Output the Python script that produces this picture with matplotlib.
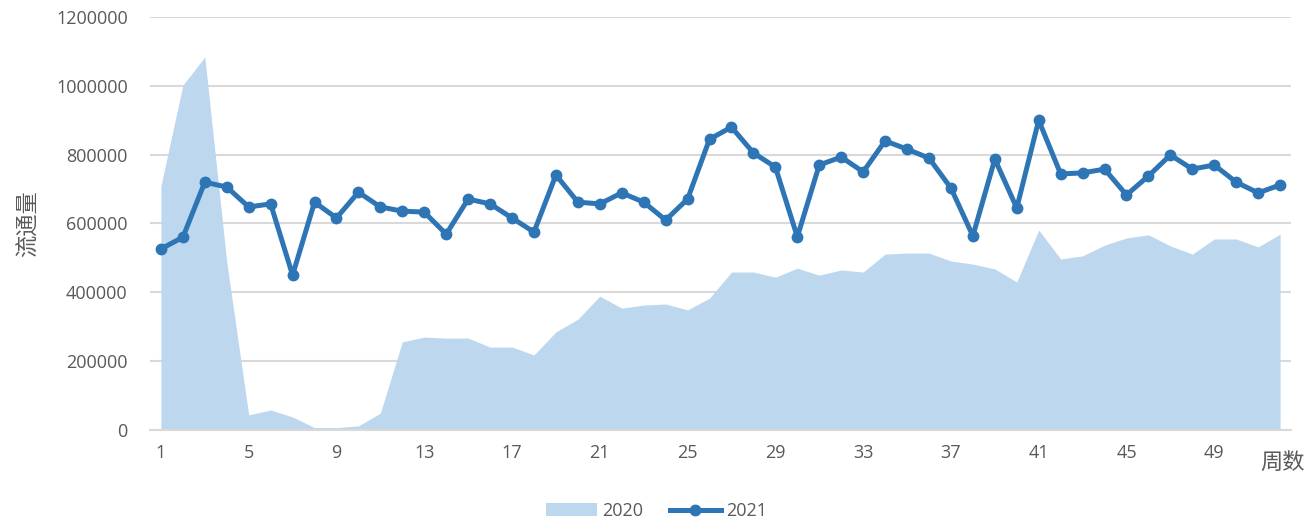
import numpy as np
import matplotlib.pyplot as plt
from matplotlib.ticker import FuncFormatter

plt.rcParams['font.family'] = ['Open Sans', 'Noto Sans CJK SC', 'DejaVu Sans']

weeks = list(range(1, 53))

vol_2020 = [709000, 1002000, 1084000, 488000, 44000, 58000, 38000, 7000, 7000, 12000,
            49000, 256000, 270000, 267000, 267000, 241000, 241000, 218000, 285000, 322000,
            389000, 354000, 363000, 366000, 349000, 383000, 459000, 459000, 444000, 470000,
            450000, 465000, 459000, 511000, 514000, 514000, 491000, 482000, 468000, 430000,
            581000, 497000, 506000, 537000, 558000, 567000, 535000, 511000, 555000, 555000,
            532000, 569000]

vol_2021 = [526000, 560000, 720000, 706000, 648000, 657000, 450000, 662000, 616000, 691000,
            648000, 636000, 633000, 569000, 671000, 657000, 616000, 575000, 741000, 662000,
            657000, 689000, 662000, 610000, 671000, 845000, 880000, 805000, 764000, 561000,
            770000, 793000, 750000, 840000, 816000, 790000, 703000, 564000, 787000, 645000,
            900000, 744000, 747000, 758000, 683000, 738000, 799000, 758000, 770000, 720000,
            689000, 712000]

fig = plt.figure(figsize=(13.13, 5.31), dpi=100)
ax = fig.add_axes([0.1142, 0.1902, 0.8691, 0.7778])

ax.fill_between(weeks, vol_2020, 0, color='#BDD7EE', linewidth=0, label='2020')
ax.plot(weeks, vol_2021, color='#2E75B6', linewidth=3.6, marker='o', markersize=7.5,
        label='2021', solid_joinstyle='round')

ax.set_xlim(0.5, 52.5)
ax.set_ylim(0, 1200000)
ax.set_yticks(range(0, 1200001, 200000))
ax.yaxis.set_major_formatter(FuncFormatter(lambda v, p: '%d' % v))
ax.set_xticks(weeks[::4])
ax.grid(axis='y', color='#D9D9D9', linewidth=1.5)
ax.set_axisbelow(True)
for s in ['top', 'right', 'left']:
    ax.spines[s].set_visible(False)
ax.spines['bottom'].set_color('#D9D9D9')
ax.spines['bottom'].set_linewidth(1.5)
ax.tick_params(axis='both', length=0, labelsize=13, labelcolor='#595959')
ax.tick_params(axis='y', pad=16)
ax.tick_params(axis='x', pad=10)

ax.set_ylabel('流通量', fontsize=16, color='#595959', labelpad=12)
ax.text(1.012, -0.055, '周数', transform=ax.transAxes, fontsize=16, color='#595959',
        ha='right', va='top')

fig.legend(loc='lower center', ncol=2, frameon=False, fontsize=13,
           labelcolor='#595959', bbox_to_anchor=(0.5, -0.01), handlelength=2.8,
           columnspacing=1.5, handletextpad=0.3)

fig.savefig('out.png', dpi=100)
